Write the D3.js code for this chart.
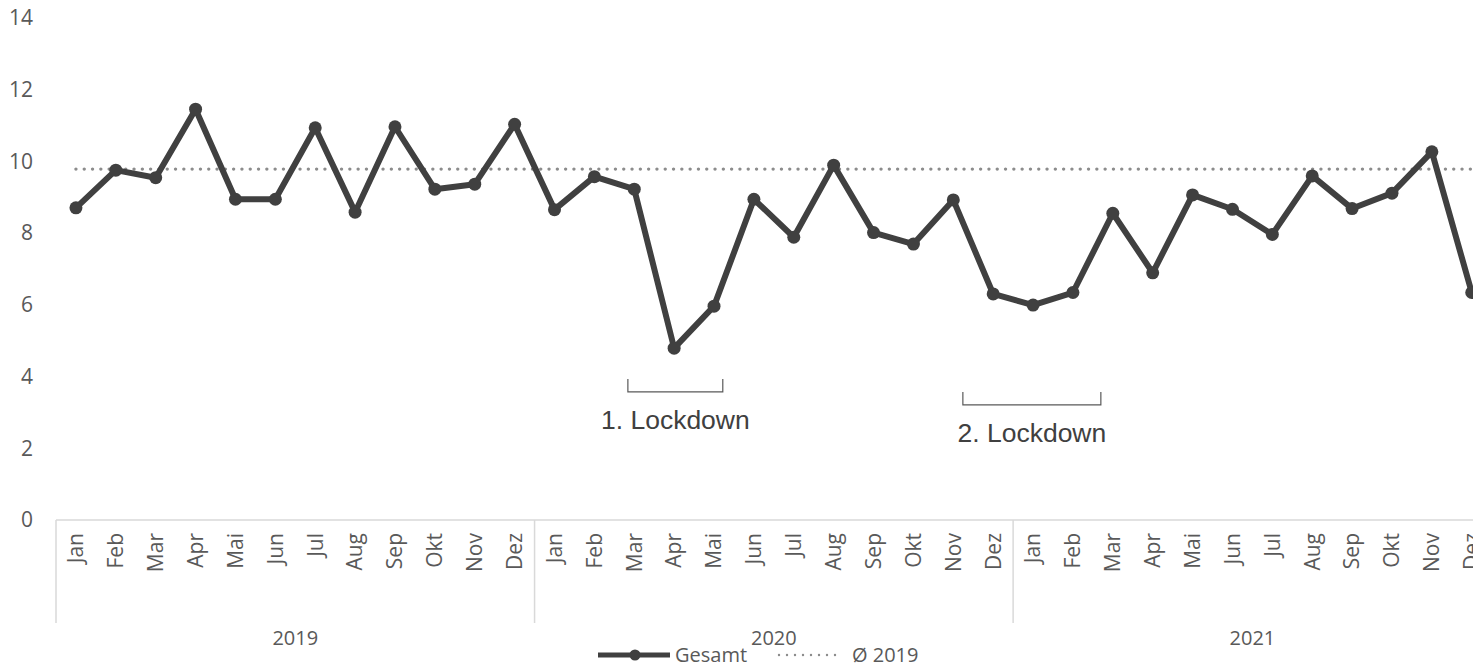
<!DOCTYPE html>
<html>
<head>
<meta charset="utf-8">
<script src="https://cdn.jsdelivr.net/npm/d3@7"></script>
<style>
  body { margin: 0; background: #fff; }
  svg { display: block; overflow: hidden; }
  text { font-family: "Open Sans", sans-serif; fill: #595959; }
</style>
</head>
<body>
<script>
// data
var years = ["2019", "2020", "2021"];
var months = ["Jan", "Feb", "Mar", "Apr", "Mai", "Jun", "Jul", "Aug", "Sep", "Okt", "Nov", "Dez"];
var gesamt2019 = [8.70, 9.75, 9.54, 11.45, 8.94, 8.94, 10.93, 8.58, 10.96, 9.22, 9.36, 11.03];
var gesamt2020 = [8.65, 9.57, 9.22, 4.79, 5.96, 8.94, 7.88, 9.89, 8.01, 7.69, 8.92, 6.30];
var gesamt2021 = [5.99, 6.34, 8.55, 6.89, 9.06, 8.66, 7.96, 9.59, 8.68, 9.11, 10.26, 6.34];
var avg2019 = 9.78;
var yTicks = [0, 2, 4, 6, 8, 10, 12, 14];
// lockdown brackets, in month index / value units
var lockdowns = [
  { label: "1. Lockdown", from: 13.84, to: 16.22, top: 3.93, bottom: 3.57 },
  { label: "2. Lockdown", from: 22.24, to: 25.70, top: 3.57, bottom: 3.21 }
];

var width = 1473, height = 669;
var svg = d3.select("body").append("svg")
    .attr("width", width)
    .attr("height", height);

var rows = [];
[gesamt2019, gesamt2020, gesamt2021].forEach(function(arr, yi) {
  arr.forEach(function(v, mi) {
    rows.push({ key: years[yi] + "-" + mi, year: years[yi], month: months[mi], value: v });
  });
});

var x = d3.scaleBand()
    .domain(rows.map(function(d) { return d.key; }))
    .range([56, 56 + 36 * 39.88]);

var xi = d3.scaleLinear()
    .domain([0, 35])
    .range([x(rows[0].key) + x.bandwidth() / 2, x(rows[35].key) + x.bandwidth() / 2]);

var y = d3.scaleLinear()
    .domain([0, 14])
    .range([520, 520 - 14 * 35.88]);

function cx(d) { return x(d.key) + x.bandwidth() / 2; }

// y labels
svg.append("g")
  .selectAll("text")
  .data(yTicks)
  .enter().append("text")
    .attr("x", 33)
    .attr("y", function(d) { return y(d); })
    .attr("dy", "0.35em")
    .attr("text-anchor", "end")
    .style("font-size", "21px")
    .text(function(d) { return d; });

// x axis line and year separators
svg.append("line")
    .attr("x1", x.range()[0]).attr("x2", x.range()[1])
    .attr("y1", 520).attr("y2", 520)
    .attr("stroke", "#d9d9d9").attr("stroke-width", 1.5);

svg.append("g")
  .selectAll("line")
  .data(years)
  .enter().append("line")
    .attr("x1", function(d, i) { return x(rows[i * 12].key); })
    .attr("x2", function(d, i) { return x(rows[i * 12].key); })
    .attr("y1", 520).attr("y2", 623)
    .attr("stroke", "#d9d9d9").attr("stroke-width", 1.5);

// month labels
svg.append("g")
  .selectAll("text")
  .data(rows)
  .enter().append("text")
    .attr("transform", function(d) { return "translate(" + cx(d) + ",533)rotate(-90)"; })
    .attr("dy", "0.35em")
    .attr("text-anchor", "end")
    .style("font-size", "21px")
    .text(function(d) { return d.month; });

// year labels
svg.append("g")
  .selectAll("text")
  .data(years)
  .enter().append("text")
    .attr("x", function(d, i) { return x(rows[i * 12].key) + 6 * x.step(); })
    .attr("y", 645)
    .attr("text-anchor", "middle")
    .style("font-size", "20px")
    .text(function(d) { return d; });

// average line
svg.append("line")
    .attr("x1", xi(0)).attr("x2", xi(35))
    .attr("y1", y(avg2019)).attr("y2", y(avg2019))
    .attr("stroke", "#8c8c8c")
    .attr("stroke-width", 3.4)
    .attr("stroke-linecap", "round")
    .attr("stroke-dasharray", "0 8.3");

// main series
var line = d3.line()
    .x(cx)
    .y(function(d) { return y(d.value); });

svg.append("path")
    .datum(rows)
    .attr("fill", "none")
    .attr("stroke", "#404040")
    .attr("stroke-width", 6)
    .attr("stroke-linejoin", "round")
    .attr("d", line);

svg.append("g")
  .selectAll("circle")
  .data(rows)
  .enter().append("circle")
    .attr("cx", cx)
    .attr("cy", function(d) { return y(d.value); })
    .attr("r", 6.5)
    .attr("fill", "#404040");

// lockdown brackets
var lk = svg.append("g")
  .selectAll("g")
  .data(lockdowns)
  .enter().append("g");

lk.append("path")
    .attr("fill", "none")
    .attr("stroke", "#595959")
    .attr("stroke-width", 1.2)
    .attr("d", function(d) {
      return "M" + xi(d.from) + "," + y(d.top) + "V" + y(d.bottom) +
        "H" + xi(d.to) + "V" + y(d.top);
    });

lk.append("text")
    .attr("x", function(d) { return (xi(d.from) + xi(d.to)) / 2; })
    .attr("y", function(d) { return y(d.bottom) + 37; })
    .attr("text-anchor", "middle")
    .style("font-family", "'Liberation Sans', Arial, sans-serif")
    .style("font-size", "26.5px")
    .style("fill", "#404040")
    .text(function(d) { return d.label; });

// legend
var lg = svg.append("g").attr("transform", "translate(0,655)");
lg.append("line")
    .attr("x1", 598).attr("x2", 670)
    .attr("stroke", "#404040").attr("stroke-width", 5);
lg.append("circle")
    .attr("cx", 635).attr("r", 5.5).attr("fill", "#404040");
lg.append("text")
    .attr("x", 675).attr("dy", "0.35em")
    .style("font-size", "20px")
    .text("Gesamt");
lg.append("line")
    .attr("x1", 779).attr("x2", 843)
    .attr("stroke", "#8c8c8c").attr("stroke-width", 2.4)
    .attr("stroke-linecap", "round")
    .attr("stroke-dasharray", "0 8");
lg.append("text")
    .attr("x", 852).attr("dy", "0.35em")
    .style("font-size", "20px")
    .text("Ø 2019");
</script>
</body>
</html>
